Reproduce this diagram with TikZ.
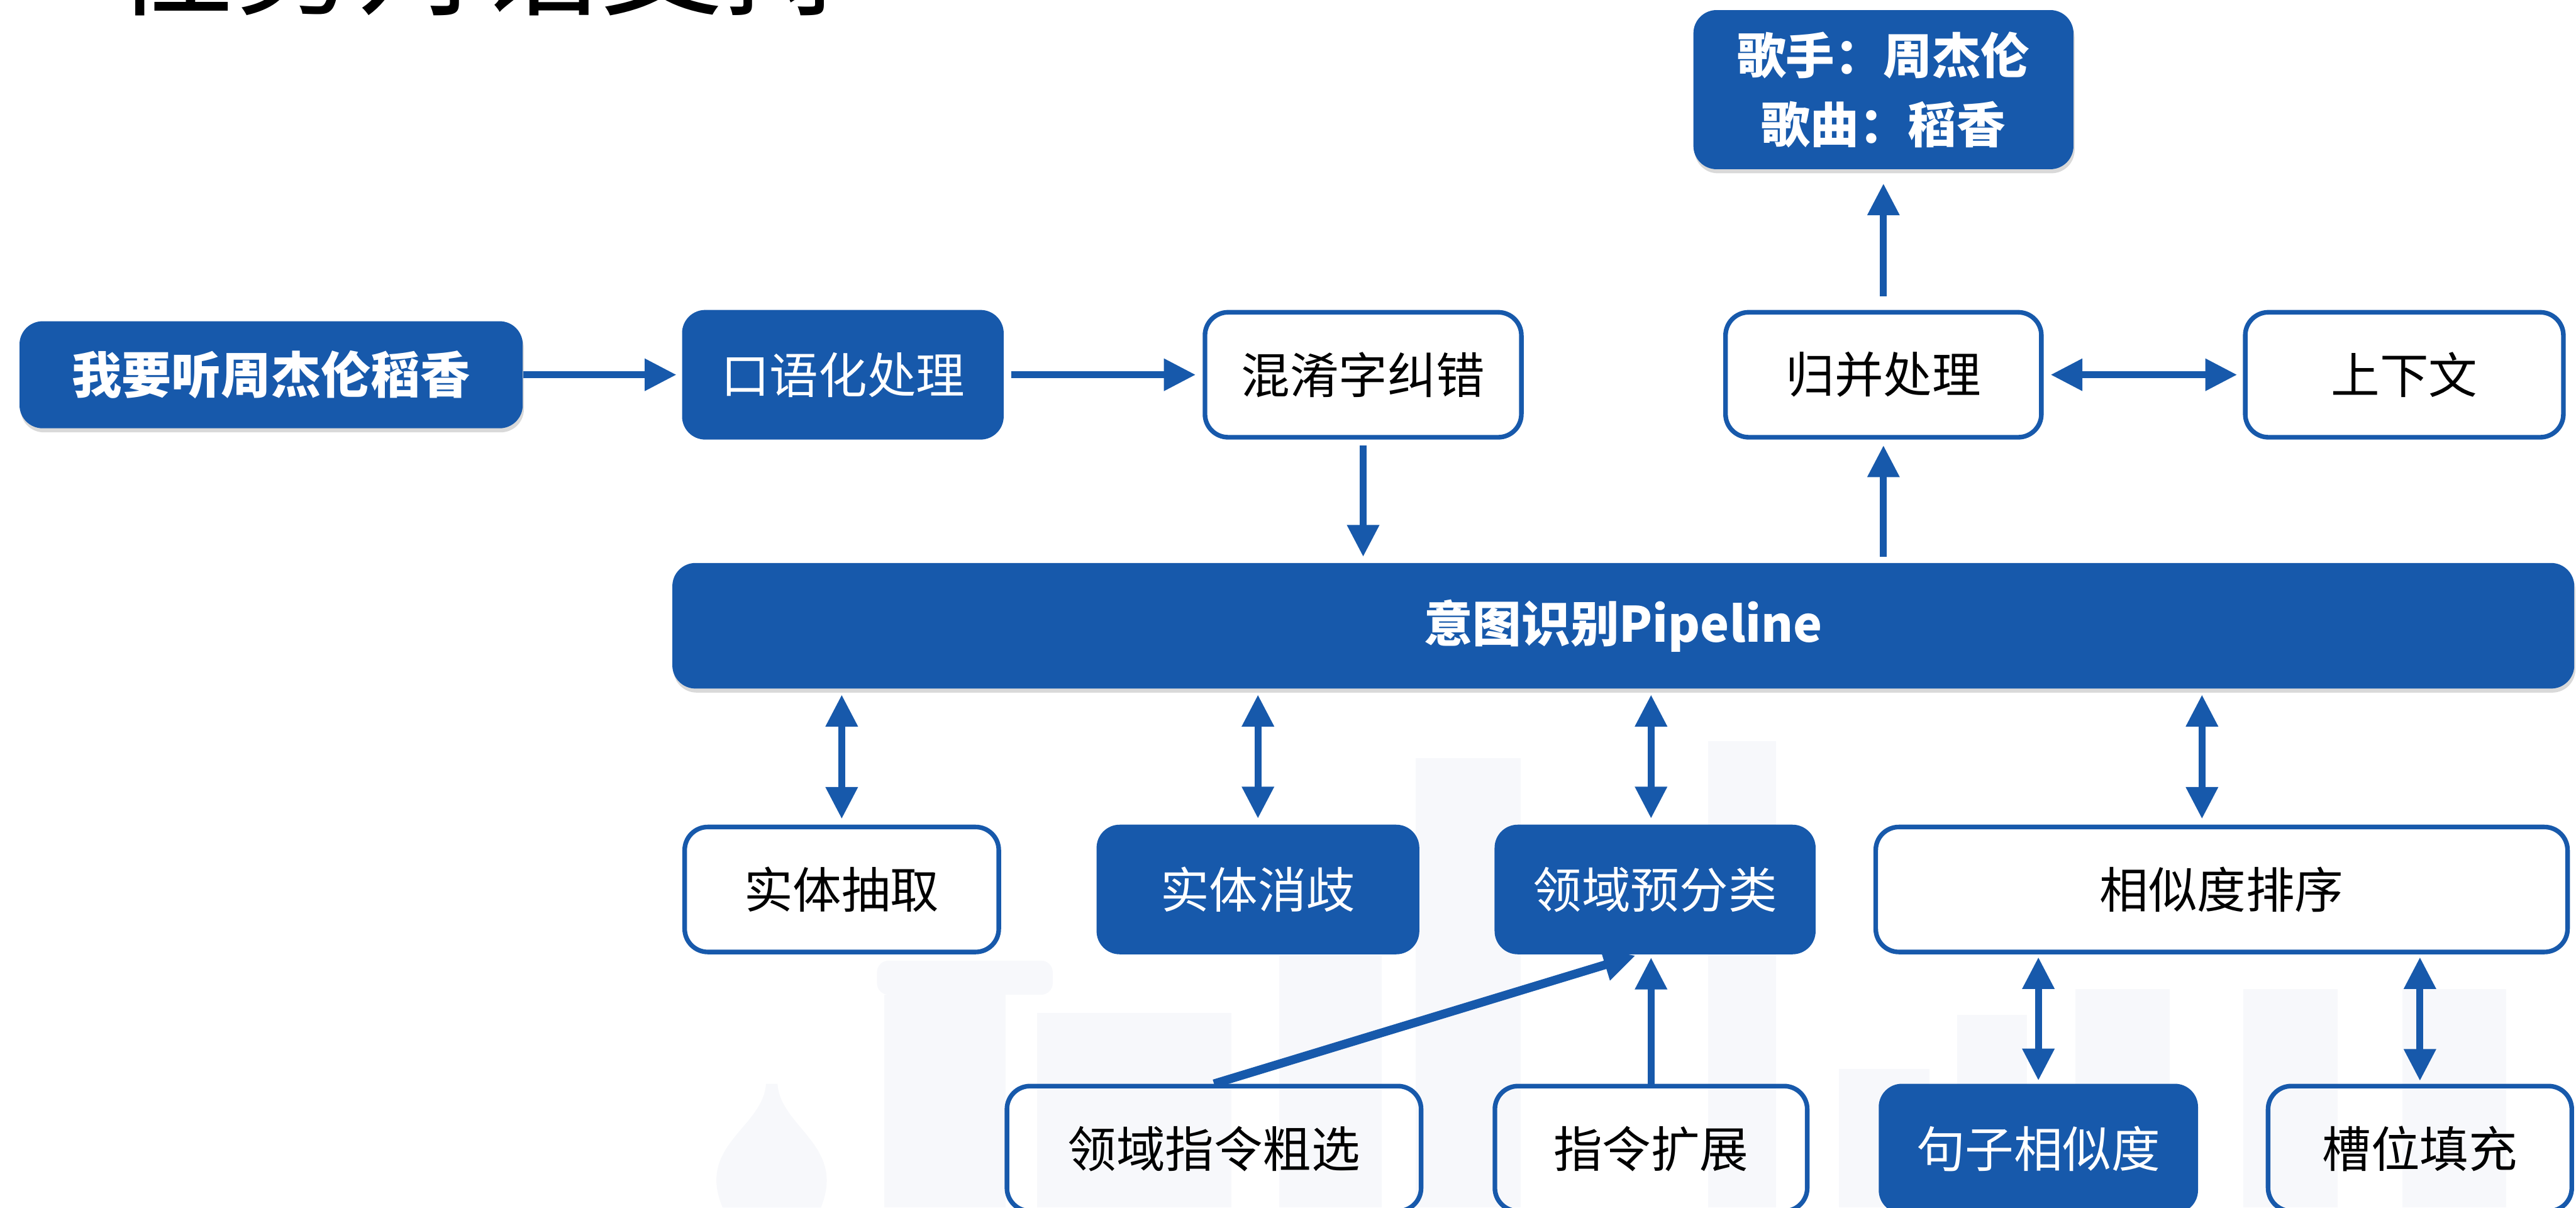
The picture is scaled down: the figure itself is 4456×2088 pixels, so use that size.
\documentclass[tikz,border=0pt]{standalone}
\usepackage{fontspec}
\setmainfont{Noto Sans CJK SC}
\usetikzlibrary{arrows.meta,shadows}
\definecolor{azulpl}{RGB}{23,89,171}
\definecolor{fondo}{RGB}{247,248,251}

\begin{document}
\begin{tikzpicture}[x=0.01cm,y=-0.01cm,line cap=round,line join=round,
	caja/.style={rounded corners=0.4cm,inner sep=0pt,align=center,font=\fontsize{24}{34}\selectfont},
	azul/.style={caja,fill=azulpl,text=white},
	blanca/.style={caja,draw=azulpl,line width=0.08cm,text=black},
	negrita/.style={font=\bfseries\fontsize{24}{34}\selectfont},
	sombra/.style={drop shadow={shadow xshift=0.02cm,shadow yshift=-0.07cm,opacity=0.3}},
	punta/.tip={Triangle[length=0.55cm,width=0.53cm]},
	flecha/.style={-punta,line width=0.12cm,draw=azulpl,line cap=butt},
	dflecha/.style={flecha,punta-punta}]
		\useasboundingbox (0,0) rectangle (4456,2088);
		\clip (0,0) rectangle (4456,2088);
		%%%%%%%%%%%%%%%%%%%%% F O N D O %%%%%%%%%%%%%%%%%%%%%
		\fill[fondo] (2449,1311) rectangle (2631,2088);
		\fill[fondo] (2955,1282) rectangle (3072,2088);
		\fill[fondo] (2213,1652) rectangle (2390,2088);
		\fill[fondo] (1794,1752) rectangle (2130,2088);
		\fill[fondo,rounded corners=0.2cm] (1517,1661) rectangle (1821,1720);
		\fill[fondo] (1530,1720) rectangle (1740,2088);
		\fill[fondo] (3181,1848) rectangle (3338,2088);
		\fill[fondo] (3385,1755) rectangle (3506,2088);
		\fill[fondo] (3590,1710) rectangle (3753,2088);
		\fill[fondo] (3881,1710) rectangle (4044,2088);
		\fill[fondo] (4156,1710) rectangle (4335,2088);
		\fill[fondo] (1325,1874) -- (1345,1874) .. controls (1350,1950) and (1464,1980) .. (1420,2088) -- (1250,2088) .. controls (1204,1980) and (1320,1950) .. cycle;
		\node[anchor=base west,inner sep=0pt,font=\fontsize{60}{60}\selectfont] (titulo) at (195,10) {任务对话支持};
		%%%% ENTRADA
		\node[azul,sombra,font=\bfseries\fontsize{24.5}{30}\selectfont,minimum width=8.70cm,minimum height=1.85cm] (frase) at (469,648) {我要听周杰伦稻香};
		\node[azul,minimum width=5.56cm,minimum height=2.24cm] (oral) at (1458,648) {口语化处理};
		\node[blanca,minimum width=5.47cm,minimum height=2.16cm] (corr) at (2358,648) {混淆字纠错};
		\node[blanca,minimum width=5.46cm,minimum height=2.16cm] (merge) at (3258,648) {归并处理};
		\node[blanca,minimum width=5.50cm,minimum height=2.16cm] (ctx) at (4159,648) {上下文};
		%%%% SALIDA
		\node[azul,sombra,negrita,minimum width=6.57cm,minimum height=2.75cm] (res) at (3258,155) {歌手：周杰伦\\歌曲：稻香};
		%%%% PIPELINE
		\node[azul,sombra,negrita,minimum width=32.88cm,minimum height=2.17cm] (pipe) at (2808,1082) {意图识别Pipeline};
		%%%% MODULOS
		\node[blanca,minimum width=5.43cm,minimum height=2.16cm] (ext) at (1456,1538) {实体抽取};
		\node[azul,minimum width=5.58cm,minimum height=2.24cm] (dis) at (2176,1538) {实体消歧};
		\node[azul,minimum width=5.55cm,minimum height=2.24cm] (cls) at (2863,1538) {领域预分类};
		\node[blanca,minimum width=11.96cm,minimum height=2.16cm] (rank) at (3843,1538) {相似度排序};
		\coordinate (r1) at (3809,1538);
		\node[blanca,minimum width=7.16cm,minimum height=2.16cm] (coarse) at (2100,1986) {领域指令粗选};
		\node[blanca,minimum width=5.40cm,minimum height=2.16cm] (expand) at (2856,1986) {指令扩展};
		\node[azul,minimum width=5.52cm,minimum height=2.24cm] (sent) at (3526,1986) {句子相似度};
		\node[blanca,minimum width=5.25cm,minimum height=2.16cm] (slot) at (4186,1986) {槽位填充};
		%%%% FLECHAS
		\draw[flecha,shorten >=0.09cm] (frase) -- (oral);
		\draw[flecha,shorten <=0.12cm,shorten >=0.12cm] (oral) -- (corr);
		\draw[flecha,shorten <=0.1cm,shorten >=0.1cm] (corr.south) -- (corr.south |- pipe.north);
		\draw[flecha,shorten <=0.1cm,shorten >=0.1cm] (merge.south |- pipe.north) -- (merge.south);
		\draw[flecha,shorten <=0.24cm,shorten >=0.24cm] (merge) -- (res);
		\draw[dflecha,shorten <=0.12cm,shorten >=0.1cm] (merge) -- (ctx);
		\draw[dflecha,shorten <=0.1cm,shorten >=0.1cm] (pipe.south -| ext) -- (ext.north);
		\draw[dflecha,shorten <=0.1cm,shorten >=0.1cm] (pipe.south -| dis) -- (dis.north);
		\draw[dflecha,shorten <=0.1cm,shorten >=0.1cm] (pipe.south -| expand) -- (expand |- cls.north);
		\draw[dflecha,shorten <=0.1cm,shorten >=0.1cm] (pipe.south -| r1) -- (rank.north -| r1);
		\draw[flecha,line width=0.15cm,shorten >=0.05cm] (coarse.north) -- ([xshift=-0.29cm]cls.south);
		\draw[flecha,shorten >=0.05cm] (expand.north) -- (expand.north |- cls.south);
		\draw[dflecha,shorten <=0.05cm,shorten >=0.05cm] (rank.south -| sent) -- (sent.north);
		\draw[dflecha,shorten <=0.05cm,shorten >=0.05cm] (rank.south -| slot) -- (slot.north);
	\end{tikzpicture}
\end{document}
